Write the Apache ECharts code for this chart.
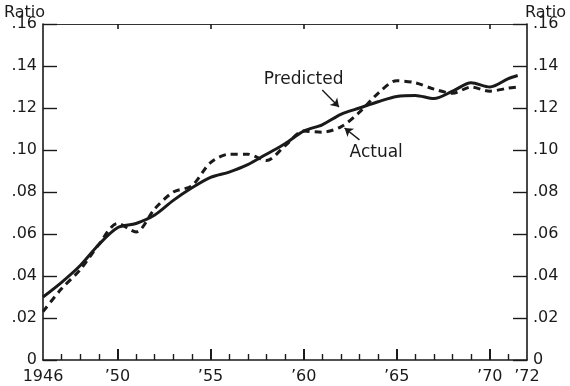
<!DOCTYPE html>
<html>
<head>
<meta charset="utf-8">
<script src="https://cdn.jsdelivr.net/npm/echarts@6/dist/echarts.min.js"></script>
<style>
	html, body { margin: 0; padding: 0; background: #fff; }
	#chart { width: 570px; height: 386px; }
</style>
</head>
<body>
<div id="chart"></div>
<script>
/* data */
var years = [1946, 1947, 1948, 1949, 1950, 1951, 1952, 1953, 1954, 1955, 1956, 1957, 1958,
	1959, 1960, 1961, 1962, 1963, 1964, 1965, 1966, 1967, 1968, 1969, 1970, 1971, 1971.5];
var predicted = [0.030, 0.037, 0.045, 0.055, 0.063, 0.065, 0.069, 0.076, 0.082, 0.087, 0.0895, 0.093, 0.098,
	0.103, 0.109, 0.112, 0.117, 0.120, 0.123, 0.1255, 0.126, 0.1245, 0.128, 0.132, 0.130, 0.134, 0.1355];
var actual = [0.023, 0.034, 0.043, 0.055, 0.065, 0.061, 0.072, 0.080, 0.083, 0.094, 0.098, 0.098, 0.095,
	0.102, 0.109, 0.1085, 0.111, 0.118, 0.127, 0.133, 0.132, 0.129, 0.127, 0.130, 0.128, 0.1295, 0.130];
var labelYears = [1946, 1950, 1955, 1960, 1965, 1970, 1972];
var majorYears = [1950, 1955, 1960, 1965, 1970];
var minorYears = [1947, 1948, 1949, 1951, 1952, 1953, 1954, 1956, 1957, 1958, 1959,
	1961, 1962, 1963, 1964, 1966, 1967, 1968, 1969, 1971];

var ink = '#1a1a1a';
var font = 'DejaVu Sans';

function pairs(vals) {
	var out = [];
	for (var i = 0; i < years.length; i++) out.push([years[i], vals[i]]);
	return out;
}
function yearLabel(v) {
	if (v === 1946) return '1946';
	return '\u2019' + String(v).slice(2);
}
function ratioLabel(v) {
	if (v === 0) return '0';
	return '.' + String(Math.round(v * 100)).padStart(2, '0');
}

var yAxisBase = {
	type : 'value',
	min : 0,
	max : 0.16,
	interval : 0.02,
	splitLine : { show : false },
	axisLine : { show : true, lineStyle : { color : ink, width : 1.6 } },
	axisTick : { show : true, inside : true, length : 14, lineStyle : { color : ink, width : 1.4 } },
	axisLabel : { formatter : ratioLabel, color : ink, fontFamily : font, fontSize : 16, margin : 6 }
};

var option = {
	animation : false,
	backgroundColor : '#fff',
	grid : { left : 43, right : 43, top : 24, bottom : 26 },
	xAxis : [ {
		type : 'value', position : 'bottom', min : 1946, max : 1972,
		splitLine : { show : false },
		axisLine : { show : true, onZero : false, lineStyle : { color : ink, width : 1.6 } },
		axisTick : { show : true, inside : true, length : 6, customValues : minorYears, lineStyle : { color : ink, width : 1.4 } },
		axisLabel : { customValues : labelYears, formatter : yearLabel, color : ink, fontFamily : font, fontSize : 16, margin : 9 }
	}, {
		type : 'value', position : 'bottom', min : 1946, max : 1972,
		splitLine : { show : false },
		axisLine : { show : false, onZero : false },
		axisTick : { show : true, inside : true, length : 11, customValues : majorYears, lineStyle : { color : ink, width : 2 } },
		axisLabel : { show : false }
	}, {
		type : 'value', position : 'top', min : 1946, max : 1972,
		splitLine : { show : false },
		axisLine : { show : true, onZero : false, lineStyle : { color : '#333', width : 1.2 } },
		axisTick : { show : true, inside : true, length : 5, customValues : majorYears, lineStyle : { color : ink, width : 1.6 } },
		axisLabel : { show : false }
	} ],
	yAxis : [
		echarts.util.merge({ position : 'left' }, yAxisBase, true),
		echarts.util.merge({ position : 'right' }, yAxisBase, true)
	],
	graphic : [
		{ type : 'text', left : 4, top : 5, style : { text : 'Ratio', fill : ink, font : '16px ' + font } },
		{ type : 'text', right : 4, top : 5, style : { text : 'Ratio', fill : ink, font : '16px ' + font } }
	],
	series : [ {
		name : 'Predicted',
		type : 'line',
		data : pairs(predicted),
		smooth : 0.3,
		symbol : 'none',
		lineStyle : { color : ink, width : 3 },
		markPoint : {
			symbol : 'circle', symbolSize : 0,
			label : { show : true, formatter : 'Predicted', color : ink, fontFamily : font, fontSize : 17 },
			data : [ { coord : [1960.0, 0.1335] } ]
		},
		markLine : {
			silent : true,
			symbol : ['none', 'arrow'], symbolSize : 8,
			lineStyle : { color : ink, width : 1.4, type : 'solid' },
			label : { show : false },
			data : [ [ { coord : [1961.0, 0.1286] }, { coord : [1961.9, 0.1205] } ] ]
		}
	}, {
		name : 'Actual',
		type : 'line',
		data : pairs(actual),
		smooth : 0.3,
		symbol : 'none',
		lineStyle : { color : ink, width : 3, type : [7, 5] },
		markPoint : {
			symbol : 'circle', symbolSize : 0,
			label : { show : true, formatter : 'Actual', color : ink, fontFamily : font, fontSize : 17 },
			data : [ { coord : [1963.9, 0.0986] } ]
		},
		markLine : {
			silent : true,
			symbol : ['none', 'arrow'], symbolSize : 8,
			lineStyle : { color : ink, width : 1.4, type : 'solid' },
			label : { show : false },
			data : [ [ { coord : [1963.0, 0.1048] }, { coord : [1962.2, 0.1105] } ] ]
		}
	} ]
};

var chart = echarts.init(document.getElementById('chart'), null, { renderer : 'canvas' });
chart.setOption(option);
</script>
</body>
</html>
